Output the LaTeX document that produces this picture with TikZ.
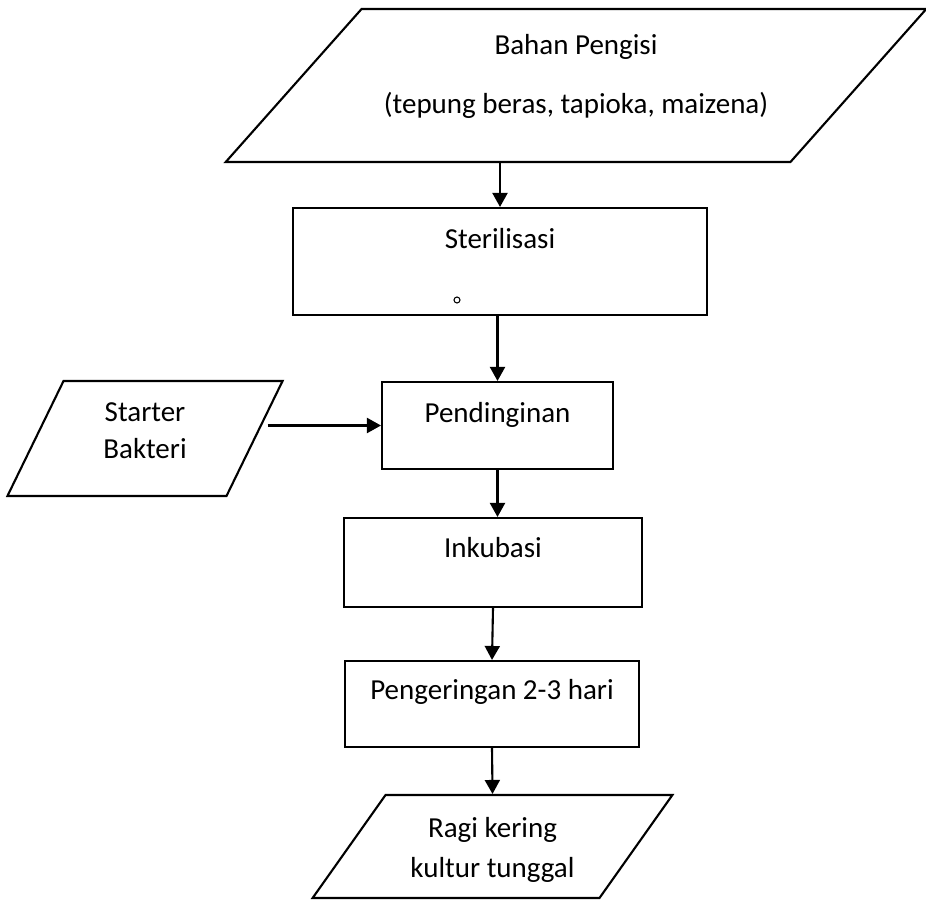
\documentclass[tikz,border=0pt]{standalone}
\usepackage{fontspec}
\setmainfont{Carlito}
\usetikzlibrary{arrows.meta,shapes.geometric}
\tikzset{proc/.style={draw,rectangle,line width=1.2pt,inner sep=0pt,align=flush center},
  io/.style={draw,trapezium,line width=1.2pt,inner sep=0pt,align=flush center},
  arr/.style={line width=1.2pt,-{Triangle[length=0.28cm,width=0.3cm]}}}

\begin{document}
\begin{tikzpicture}[x=0.02cm,y=-0.02cm,font=\fontsize{16.5}{19.8}\selectfont]
          \useasboundingbox (0,0) rectangle (926,899);

          \node (bahan) at (576,85.5) [io,trapezium left angle=48.4,trapezium right angle=131.6,
            text width=8.58cm,text height=0.9cm,text depth=2.16cm]
            {Bahan Pengisi\\[14pt](tepung beras, tapioka, maizena)};
          \node (steril) at (500,261.5) [proc,minimum width=8.28cm,text height=0.8cm,text depth=1.34cm] {Sterilisasi};
          \node (starter) at (145,438.5) [io,trapezium left angle=64,trapezium right angle=116,
            text width=3.26cm,text height=0.8cm,text depth=1.5cm] {Starter\\[1.8pt]Bakteri};
          \node (pending) at (497.5,425.5) [proc,minimum width=4.62cm,text height=0.8cm,text depth=0.94cm] {Pendinginan};
          \node (inkub) at (493,562.5) [proc,minimum width=5.96cm,text height=0.78cm,text depth=1cm] {Inkubasi};
          \node (kering) at (492,704) [proc,minimum width=5.88cm,text height=0.76cm,text depth=0.96cm] {Pengeringan 2-3 hari};
          \node (ragi) at (492.5,846.5) [io,trapezium left angle=54.7,trapezium right angle=125.3,
            text width=4.28cm,text height=0.84cm,text depth=1.22cm] {Ragi kering\\[3pt]kultur tunggal};

          \draw[line width=0.6pt] (457,300) circle[radius=0.06cm];

          \draw[arr] (bahan.south -| steril.north) -- (steril.north);
          \draw[arr] (steril.south -| pending.north) -- (pending.north);
          \draw[arr] ([xshift=0.24cm]starter.east |- pending.west) -- (pending.west);
          \draw[arr] (pending.south) -- (pending.south |- inkub.north);
          \draw[arr] (inkub.south) -- (kering.north);
          \draw[arr] (kering.south) -- (ragi.north);
        \end{tikzpicture}
\end{document}
